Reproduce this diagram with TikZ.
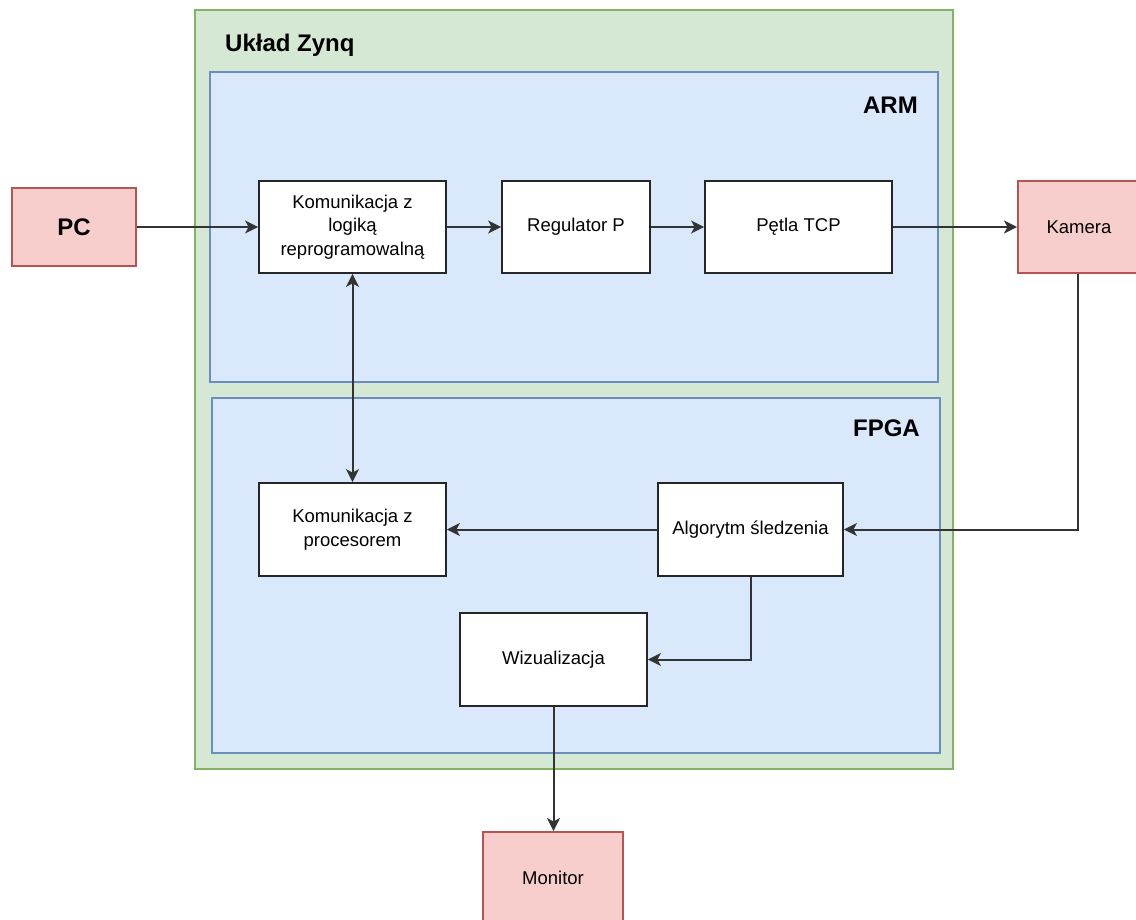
\documentclass[tikz,border=0pt]{standalone}
\usepackage{fontspec}
\setmainfont{Liberation Sans}
\usetikzlibrary{arrows.meta}
\definecolor{zfill}{HTML}{D5E8D4}
\definecolor{zdraw}{HTML}{82B366}
\definecolor{bfill}{HTML}{DAE8FC}
\definecolor{bdraw}{HTML}{6C8EBF}
\definecolor{rfill}{HTML}{F8CECC}
\definecolor{rdraw}{HTML}{B85450}
\tikzset{
  myhead/.tip={Stealth[length=13pt,width=13pt,inset=3.5pt]},
  bodyfont/.style={font=\fontsize{18.5}{23.5}\selectfont},
  blk/.style={draw=black!85, fill=white, line width=1.8pt, align=center, bodyfont, inner sep=0pt},
  ext/.style={draw=rdraw, fill=rfill, line width=1.8pt, align=center, inner sep=0pt},
  conn/.style={draw=black!80, line width=2pt, -myhead},
  ttl/.style={font=\fontsize{24}{28}\selectfont\bfseries, inner sep=0pt}
}
\begin{document}
\begin{tikzpicture}[x=1pt,y=-1pt]
\useasboundingbox (0,0) rectangle (1136,919);
\begin{scope}
\clip (0,0) rectangle (1136,919);
% containers
\draw[draw=zdraw, fill=zfill, line width=1.8pt] (195,10) rectangle (953,769);
\draw[draw=bdraw, fill=bfill, line width=1.8pt] (210,72) rectangle (938,382);
\draw[draw=bdraw, fill=bfill, line width=1.8pt] (212,398) rectangle (940,753);
\node[ttl, anchor=west] (zynq) at (225,45) {Układ Zynq};
\node[ttl, anchor=east] (arm) at (918,105) {ARM};
\node[ttl, anchor=east] (fpga) at (920,428) {FPGA};
% external
\node[ext, minimum width=124pt, minimum height=78pt, font=\fontsize{24}{28}\selectfont\bfseries] (pc) at (74,227) {PC};
\node[ext, minimum width=122pt, minimum height=92pt, bodyfont, anchor=west] (kam) at (1017,227) {Kamera};
\node[ext, minimum width=140pt, minimum height=92pt, bodyfont, anchor=north] (mon) at (553,831) {Monitor};
% blocks
\node[blk, minimum width=187pt, minimum height=92pt] (kl) at (352.5,227) {Komunikacja z\\logiką\\reprogramowalną};
\node[blk, minimum width=148pt, minimum height=92pt] (reg) at (576,227) {Regulator P};
\node[blk, minimum width=187pt, minimum height=92pt] (tcp) at (798.5,227) {Pętla TCP};
\node[blk, minimum width=187pt, minimum height=93pt] (kp) at (352.5,529.5) {Komunikacja z\\procesorem};
\node[blk, minimum width=185pt, minimum height=93pt] (alg) at (750.5,529.5) {Algorytm śledzenia};
\node[blk, minimum width=187pt, minimum height=93pt] (wiz) at (553.5,659.5) {Wizualizacja};
\end{scope}
% connectors
\draw[conn] (pc) -- (kl);
\draw[conn] (kl) -- (reg);
\draw[conn] (reg) -- (tcp);
\draw[conn] (tcp) -- (kam.west);
\draw[conn, myhead-myhead] (kl.south) -- (kp.north);
\draw[conn] (kam.south -| 1078,0) |- (alg.east);
\draw[conn] (alg) -- (kp);
\draw[conn] (alg.south) |- (wiz.east);
\draw[conn] (wiz.south) -- (wiz.south |- mon.north);
\end{tikzpicture}
\end{document}
